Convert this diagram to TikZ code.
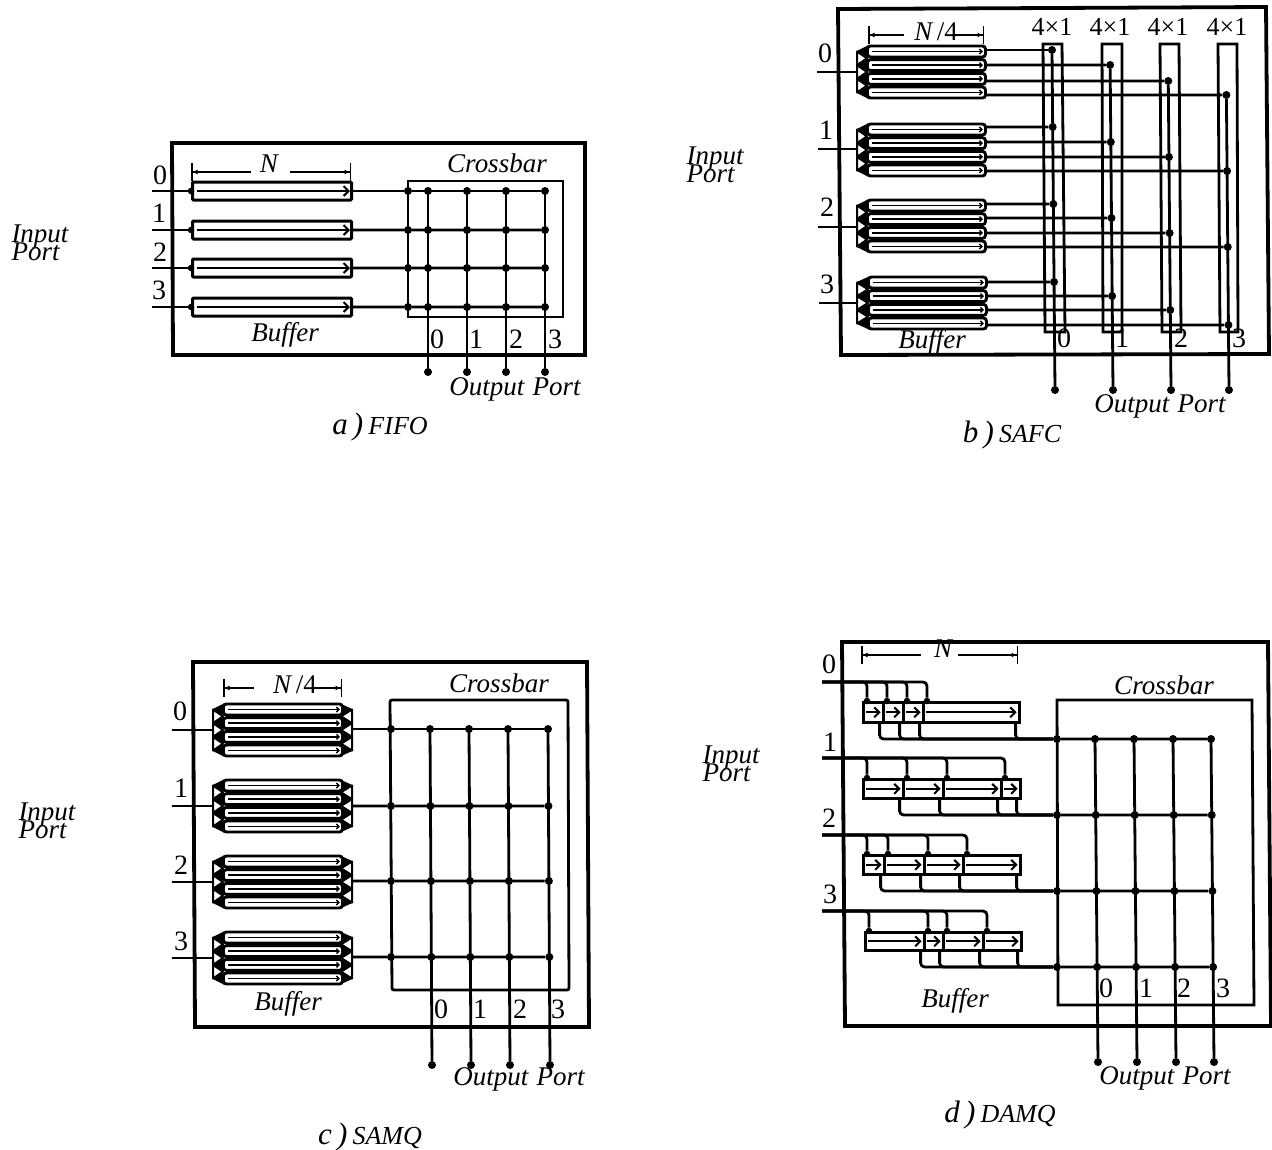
\documentclass[tikz,border=0pt]{standalone}
\usepackage{fontspec}
\setmainfont{Liberation Serif}
\usetikzlibrary{calc,arrows.meta}
\newcommand{\portfont}{\fontsize{27}{18}\selectfont\itshape\lineskiplimit=-100pt\relax}
\tikzset{
  base/.style={font=\fontsize{28}{28}\selectfont, inner sep=0pt},
  ital/.style={font=\fontsize{27}{27}\selectfont\itshape, inner sep=0pt},
  portlabel/.style={font=\portfont, inner sep=0pt, align=left},
  caption/.style={inner sep=0pt},
  mux/.style={font=\fontsize{26}{26}\selectfont, inner sep=0pt},
  frame/.style={line width=3.8pt, line join=miter},
  xbox/.style={line width=2.8pt},
  wire/.style={line width=2.8pt},
  dot/.style={circle, fill=black, inner sep=0pt, minimum size=8pt},
  sdot/.style={circle, fill=black, inner sep=0pt, minimum size=6.5pt},
  buf/.style={draw, fill=white, line width=3pt, inner sep=0pt, rounded corners=1pt},
  lane/.style={draw, fill=white, line width=2.9pt, inner sep=0pt, rounded corners=3pt, minimum height=11pt},
  cell/.style={draw, fill=white, line width=2.6pt, inner sep=0pt},
  flow/.style={line width=1.8pt, -{Straight Barb[length=5pt,width=10pt,line width=2pt]}},
  lflow/.style={line width=1.5pt, -{Straight Barb[length=2.5pt,width=5pt,line width=1.4pt]}},
  dim/.style={line width=1.7pt, {Bar[width=18pt,line width=1.5pt]Latex[length=5pt,width=5pt]}-},
  corner/.style={wire, rounded corners=4pt},
  tri/.style={draw, fill=white, line width=2pt, line join=round},
  wedge/.style={fill=black, draw=black, line width=1pt},
}
\newcommand{\capt}[2]{\fontsize{31}{31}\selectfont\itshape #1\,)\,\fontsize{26}{26}\selectfont #2}
\newcommand{\oport}{Output\hspace{0.3em}Port}
% crossbar columns: prefix, j/xtop/xbot list, i/y rows, ytop, ybot
\newcommand{\xgrid}[5]{%
  \foreach \j/\xt/\xb in {#2}{%
    \coordinate (#1ct\j) at (\xt,#4);
    \node[dot] (#1o\j) at (\xb,#5) {};
    \draw[wire] (#1ct\j) -- (#1o\j);
    \foreach \i/\y in {#3}{%
      \node[dot] (#1x\i\j) at ($(#1ct\j)!{(\y-#4)/(#5-#4)}!(#1o\j)$) {};
    }%
  }%
}
% four narrow buffers with the left fan: name, xl, xr, yc, xbus
\newcommand{\lanes}[5]{%
  \foreach \off in {-20.5,-6.85,6.85,20.5}{%
    \draw[wedge] ({#2+2},{#4+\off-5.5}) -- (#5,{#4+\off}) -- ({#2+2},{#4+\off+5.5}) -- cycle;
  }%
  \foreach \a/\b in {-20.5/-6.85,-6.85/6.85,6.85/20.5}{%
    \draw[tri] (#5,{#4+\a}) -- ({#2+1},{#4+(\a+\b)/2}) -- (#5,{#4+\b}) -- cycle;
  }%
  \foreach \k/\off in {0/-20.5,1/-6.85,2/6.85,3/20.5}{%
    \node[lane, minimum width={(#3-#2)*1pt}, anchor=west] (#1l\k) at (#2,{#4+\off}) {};
    \draw[lflow] ($(#1l\k.west)+(6,0)$) -- ($(#1l\k.east)+(-4,0)$);
  }%
}
% right side fan: xr, yc, xbus
\newcommand{\rfan}[3]{%
  \foreach \off in {-20.5,-6.85,6.85,20.5}{%
    \draw[wedge] ({#1-2},{#2+\off-5.5}) -- (#3,{#2+\off}) -- ({#1-2},{#2+\off+5.5}) -- cycle;
  }%
  \foreach \a/\b in {-20.5/-6.85,-6.85/6.85,6.85/20.5}{%
    \draw[tri] (#3,{#2+\a}) -- ({#1-1},{#2+(\a+\b)/2}) -- (#3,{#2+\b}) -- cycle;
  }%
}
% one cell of panel d: id, xl, xr, ytop, ybot
\newcommand{\dcell}[5]{%
  \node[cell, minimum width={(#3-#2)*1pt}, minimum height={(#5-#4)*1pt}, anchor=north west] (#1) at (#2,#4) {};
  \draw[flow] ($(#1.west)+(4,0)$) -- ($(#1.east)+(-4,0)$);
}
\begin{document}
\begin{tikzpicture}[x=1pt,y=-1pt]
\useasboundingbox (0,0) rectangle (1272,1149);

% ================ a) FIFO
\draw[frame] (172,143) -- (585,143) -- (585,355) -- (173,355) -- cycle;
\draw[xbox] (408,181) -- (563,181) -- (563,317) -- (408,317) -- cycle;
\xgrid{a}{0/428/428,1/467/467,2/506/506,3/545/545}{0/191,1/230,2/268,3/307}{191}{372}
\foreach \i/\y in {0/191,1/230,2/268,3/307}{%
  \coordinate (ain\i) at (152,\y);
  \node[buf, minimum width=159pt, minimum height=18pt, anchor=west] (ab\i) at (191,\y) {};
  \node[sdot] (abd\i) at (ab\i.west) {};
  \draw[wire] (ain\i) -- (abd\i);
  \draw[flow] ($(ab\i.west)+(6,0)$) -- ($(ab\i.east)+(-3,0)$);
  \node[dot] (ar\i) at (408,\y) {};
  \draw[wire] (ab\i.east) -- (ar\i) -- (ax\i3);
}
\node[base] (an0) at (160,175) {0};
\node[base] (an1) at (159,213) {1};
\node[base] (an2) at (160,252) {2};
\node[base] (an3) at (159,290) {3};
\node[ital] (aN) at (269,164) {N};
\coordinate (adl) at (191,172); \coordinate (adm) at (251,172);
\coordinate (adn) at (290,172); \coordinate (adr) at (351,172);
\draw[dim] (adl) -- (adm);
\draw[dim] (adr) -- (adn);
\node[ital] (acb) at (497,163) {Crossbar};
\node[ital] (abuf) at (285,335) {Buffer};
\node[base] (ac0) at (437,339) {0};
\node[base] (ac1) at (476,339) {1};
\node[base] (ac2) at (516,339) {2};
\node[base] (ac3) at (555,339) {3};
\node[ital] (aop) at (515,389) {\oport};
\node[portlabel] (aip) at (40,243) {Input\\Port};
\node[caption] (acap) at (380,427) {\capt{a}{FIFO}};

% ================ b) SAFC
\draw[frame] (838,9) -- (1266,7) -- (1269,354) -- (841,355) -- cycle;
\foreach \k/\xa/\xb/\xc/\xd in {0/1043/1062/1045/1065,1/1102/1122/1103/1122,2/1160/1179/1162/1181,3/1218/1237/1220/1238}{%
  \draw[xbox] (\xa,44) -- (\xb,44) -- (\xd,332) -- (\xc,332) -- cycle;
}
\foreach \j/\xt/\xb in {0/1052/1055,1/1110/1113,2/1168/1171,3/1226/1229}{%
  \coordinate (bct\j) at (\xt,50);
  \node[dot] (bo\j) at (\xb,390) {};
}
\lanes{bg0}{866}{984}{72}{857}
\lanes{bg1}{866}{984}{150}{857}
\lanes{bg2}{866}{984}{226}{857}
\lanes{bg3}{867}{985}{303}{857}
\coordinate (bin0) at (817,72);
\coordinate (bin1) at (818,149);
\coordinate (bin2) at (818,227);
\coordinate (bin3) at (819,303);
\coordinate (bbus0) at (857,72);
\coordinate (bbus1) at (857,149);
\coordinate (bbus2) at (857,227);
\coordinate (bbus3) at (857,303);
\foreach \g in {0,1,2,3}{\draw[wire] (bin\g) -- (bbus\g);}
\foreach \g/\k/\y in {0/0/50,0/1/65,0/2/81,0/3/95,
                     1/0/127,1/1/142,1/2/157,1/3/171,
                     2/0/204,2/1/218,2/2/233,2/3/247,
                     3/0/282,3/1/296,3/2/310,3/3/325}{%
  \node[dot] (bd\g\k) at ($(bct\k)!{(\y-50)/340}!(bo\k)$) {};
  \coordinate (bs\g\k) at (985,\y);
  \draw[wire] (bs\g\k) -- (bd\g\k);
}
\foreach \k in {0,1,2,3}{\draw[wire] (bd0\k) -- (bo\k);}
\node[base] (bn0) at (825,53) {0};
\node[base] (bn1) at (826,130) {1};
\node[base] (bn2) at (827,207) {2};
\node[base] (bn3) at (827,284) {3};
\node[ital] (bN) at (936,32) {N\,\textup{/4}};
\coordinate (bdl) at (868,35); \coordinate (bdm) at (904,35);
\coordinate (bdn) at (955,35); \coordinate (bdr) at (984,35);
\draw[dim] (bdl) -- (bdm);
\draw[dim] (bdr) -- (bdn);
\foreach \k/\x in {0/1052,1/1110,2/1168,3/1227}{\node[mux] (bm\k) at (\x,27) {4×1};}
\node[ital] (bbuf) at (932,342) {Buffer};
\node[base] (bc0) at (1064,338) {0};
\node[base] (bc1) at (1122,338) {1};
\node[base] (bc2) at (1181,338) {2};
\node[base] (bc3) at (1239,338) {3};
\node[ital] (bop) at (1160,406) {\oport};
\node[portlabel] (bip) at (715,165) {Input\\Port};
\node[caption] (bcap) at (1012,435) {\capt{b}{SAFC}};

% ================ c) SAMQ
\draw[frame] (193,662) -- (587,662) -- (589,1027) -- (195,1027) -- cycle;
\draw[xbox, rounded corners=2pt] (390,700) -- (568,700) -- (569,990) -- (392,990) -- cycle;
\xgrid{c}{0/430/432,1/469/471,2/508/510,3/548/550}{0/729,1/806,2/881,3/957}{729}{1065}
\foreach \g/\y/\ry in {0/730/729,1/806/806,2/882/881,3/958/957}{%
  \rfan{342}{\y}{352}
  \lanes{cg\g}{222}{341}{\y}{213}
  \coordinate (cin\g) at (172,\y);
  \coordinate (cbl\g) at (213,\y);
  \coordinate (cbr\g) at (352,\ry);
  \draw[wire] (cin\g) -- (cbl\g);
  \node[dot] (cr\g) at (391,\ry) {};
  \draw[wire] (cbr\g) -- (cr\g) -- (cx\g3);
}
\node[base] (cn0) at (180,711) {0};
\node[base] (cn1) at (181,788) {1};
\node[base] (cn2) at (181,865) {2};
\node[base] (cn3) at (181,941) {3};
\node[ital] (cN) at (295,685) {N\,\textup{/4}};
\coordinate (cdl) at (223,688); \coordinate (cdm) at (254,688);
\coordinate (cdn) at (314,688); \coordinate (cdr) at (342,688);
\draw[dim] (cdl) -- (cdm);
\draw[dim] (cdr) -- (cdn);
\node[ital] (ccb) at (499,683) {Crossbar};
\node[ital] (cbuf) at (288,1004) {Buffer};
\node[base] (cc0) at (441,1009) {0};
\node[base] (cc1) at (480,1009) {1};
\node[base] (cc2) at (520,1009) {2};
\node[base] (cc3) at (558,1009) {3};
\node[ital] (cop) at (519,1079) {\oport};
\node[portlabel] (cip) at (47,821) {Input\\Port};
\node[caption] (ccap) at (370,1137) {\capt{c}{SAMQ}};

% ================ d) DAMQ
\draw[frame] (842,642) -- (1268,642) -- (1271,1026) -- (845,1026) -- cycle;
\draw[xbox] (1057,700) -- (1252,700) -- (1254,1005) -- (1058,1005) -- cycle;
\xgrid{d}{0/1095/1098,1/1134/1137,2/1173/1176,3/1211/1214}{0/739,1/815,2/891,3/967}{738}{1062}
\foreach \i/\y/\yin in {0/739/682,1/815/758,2/891/835,3/967/911}{%
  \coordinate (din\i) at (822,\yin);
  \node[dot] (dr\i) at (1057,\y) {};
  \draw[wire] (dr\i) -- (dx\i3);
}
% row 0
\dcell{dc00}{862}{882}{701}{721}
\dcell{dc01}{882}{902}{701}{721}
\dcell{dc02}{902}{922}{701}{721}
\dcell{dc03}{922}{1018}{701}{721}
% row 1
\dcell{dc10}{862}{902}{778}{797}
\dcell{dc11}{902}{942}{778}{797}
\dcell{dc12}{942}{1000}{778}{797}
\dcell{dc13}{1000}{1019}{778}{797}
% row 2
\dcell{dc20}{862}{883}{854}{873}
\dcell{dc21}{883}{923}{854}{873}
\dcell{dc22}{923}{962}{854}{873}
\dcell{dc23}{962}{1019}{854}{873}
% row 3
\dcell{dc30}{864}{923}{931}{949}
\dcell{dc31}{923}{942}{931}{949}
\dcell{dc32}{942}{982}{931}{949}
\dcell{dc33}{982}{1020}{931}{949}
\foreach \i in {0,1,2,3}{%
  \foreach \k in {0,1,2,3}{%
    \node[sdot] (dt\i\k) at ($(dc\i\k.north west)+(5,0)$) {};
    \coordinate (db\i\k) at ($(dc\i\k.south east)+(-5,0)$);
    \draw[corner] (din\i) -| (dt\i\k);
    \draw[corner] (db\i\k) |- (dr\i);
  }%
}
\node[base] (dn0) at (829,664) {0};
\node[base] (dn1) at (830,742) {1};
\node[base] (dn2) at (829,818) {2};
\node[base] (dn3) at (830,894) {3};
\node[ital] (dN) at (943,649) {N};
\coordinate (ddl) at (861,655); \coordinate (ddm) at (921,655);
\coordinate (ddn) at (958,655); \coordinate (ddr) at (1018,655);
\draw[dim] (ddl) -- (ddm);
\draw[dim] (ddr) -- (ddn);
\node[ital] (dcb) at (1164,685) {Crossbar};
\node[ital] (dbuf) at (955,1001) {Buffer};
\node[base] (dc0) at (1106,988) {0};
\node[base] (dc1) at (1146,988) {1};
\node[base] (dc2) at (1184,988) {2};
\node[base] (dc3) at (1223,988) {3};
\node[ital] (dop) at (1165,1078) {\oport};
\node[portlabel] (dip) at (731,764) {Input\\Port};
\node[caption] (dcap) at (1000,1115) {\capt{d}{DAMQ}};
\end{tikzpicture}
\end{document}
